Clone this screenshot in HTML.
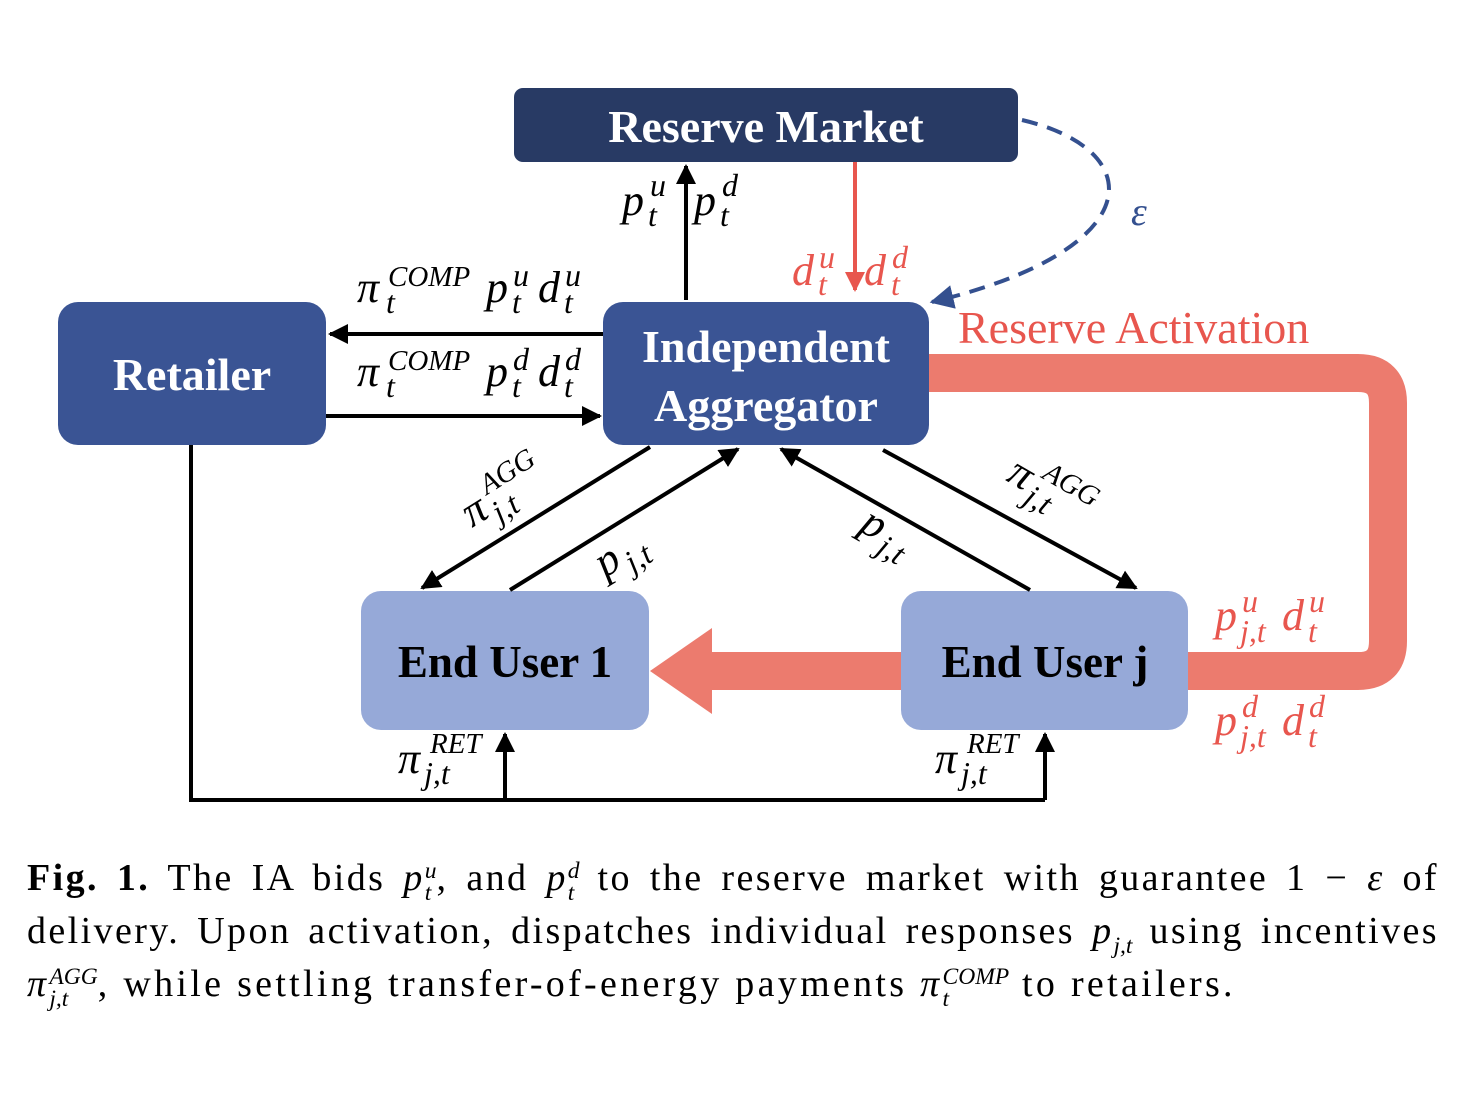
<!DOCTYPE html>
<html><head><meta charset="utf-8"><style>
body{margin:0;background:#fff;width:1478px;height:1100px;overflow:hidden;position:relative}
svg text{font-family:"Liberation Serif",serif}
.cap{position:absolute;left:27px;top:852px;width:1412px;font-family:"Liberation Serif",serif;font-size:38px;line-height:53px;letter-spacing:2.4px;text-align:justify;color:#000}
.cap .l{display:block;text-align:justify;text-align-last:justify;height:53px;white-space:nowrap}
.cap .l3{display:block;height:53px;white-space:nowrap;letter-spacing:3.3px}
.ss{display:inline-block;vertical-align:-0.42em;line-height:0.95;font-size:0.62em;font-style:italic;letter-spacing:0}
.ss span{display:block}
</style></head><body>
<svg width="1478" height="1100" viewBox="0 0 1478 1100" xmlns="http://www.w3.org/2000/svg" style="position:absolute;left:0;top:0">
<defs>
<marker id="ah" viewBox="0 0 10 10" refX="9" refY="5" markerWidth="5" markerHeight="5" orient="auto-start-reverse"><path d="M0,0 L10,5 L0,10 z" fill="#000"/></marker>
<marker id="ar" viewBox="0 0 10 10" refX="9" refY="5" markerWidth="5" markerHeight="5" orient="auto"><path d="M0,0 L10,5 L0,10 z" fill="#e8564e"/></marker>
<marker id="ab" viewBox="0 0 10 10" refX="9" refY="5" markerWidth="6" markerHeight="6" orient="auto"><path d="M0,0 L10,5 L0,10 z" fill="#34508f"/></marker>
</defs>
<path d="M925,373 H1358 Q1388,373 1388,403 V641 Q1388,671 1358,671 H1185" fill="none" stroke="#ec7b6e" stroke-width="38"/>
<rect x="700" y="652" width="205" height="38" fill="#ec7b6e"/>
<polygon points="650,671 712,628 712,714" fill="#ec7b6e"/>
<rect x="514" y="88" width="504" height="74" rx="9" fill="#283a64"/>
<text x="766" y="142" font-size="46" font-weight="bold" fill="#fff" text-anchor="middle">Reserve Market</text>
<rect x="58" y="302" width="268" height="143" rx="20" fill="#3a5494"/>
<text x="192" y="390" font-size="46" font-weight="bold" fill="#fff" text-anchor="middle">Retailer</text>
<rect x="603" y="302" width="326" height="143" rx="20" fill="#3a5494"/>
<text x="766" y="362" font-size="46" font-weight="bold" fill="#fff" text-anchor="middle">Independent</text>
<text x="766" y="421" font-size="46" font-weight="bold" fill="#fff" text-anchor="middle">Aggregator</text>
<rect x="361" y="591" width="288" height="139" rx="20" fill="#96a9d8"/>
<text x="505" y="677" font-size="45" font-weight="bold" fill="#000" text-anchor="middle">End User 1</text>
<rect x="901" y="591" width="287" height="139" rx="20" fill="#96a9d8"/>
<text x="1045" y="677" font-size="45" font-weight="bold" fill="#000" text-anchor="middle">End User j</text>
<g stroke="#000" stroke-width="4" fill="none">
<line x1="686" y1="300" x2="686" y2="166" marker-end="url(#ah)"/>
<line x1="603" y1="334" x2="330" y2="334" marker-end="url(#ah)"/>
<line x1="326" y1="416" x2="600" y2="416" marker-end="url(#ah)"/>
<polyline points="191,445 191,800 1045,800"/>
<line x1="505" y1="800" x2="505" y2="734" marker-end="url(#ah)"/>
<line x1="1045" y1="800" x2="1045" y2="734" marker-end="url(#ah)"/>
<line x1="650" y1="447" x2="422" y2="588" marker-end="url(#ah)"/>
<line x1="510" y1="590" x2="738" y2="449" marker-end="url(#ah)"/>
<line x1="1030" y1="590" x2="781" y2="449" marker-end="url(#ah)"/>
<line x1="883" y1="450" x2="1136" y2="588" marker-end="url(#ah)"/>
</g>
<line x1="855" y1="162" x2="855" y2="290" stroke="#e8564e" stroke-width="4" marker-end="url(#ar)"/>
<path d="M1022,120 C1150,150 1150,250 932,302" fill="none" stroke="#34508f" stroke-width="4" stroke-dasharray="16,10" marker-end="url(#ab)"/>
<g font-style="italic" font-size="44">
<text x="1131" y="225" fill="#34508f" font-size="40">ε</text>
<text x="622" y="215">p</text><text x="648" y="226" font-size="32">t</text><text x="650" y="196" font-size="32">u</text>
<text x="694" y="215">p</text><text x="720" y="226" font-size="32">t</text><text x="722" y="196" font-size="32">d</text>
<g fill="#e8564e">
<text x="792" y="285">d</text><text x="818" y="295" font-size="32">t</text><text x="819" y="268" font-size="32">u</text>
<text x="864" y="285">d</text><text x="891" y="295" font-size="32">t</text><text x="892" y="268" font-size="32">d</text>
</g>
<text x="357" y="302">π</text><text x="386" y="313" font-size="32">t</text><text x="388" y="286" font-size="29">COMP</text>
<text x="486" y="302">p</text><text x="512" y="313" font-size="32">t</text><text x="513" y="286" font-size="32">u</text>
<text x="538" y="302">d</text><text x="564" y="313" font-size="32">t</text><text x="565" y="286" font-size="32">u</text>
<text x="357" y="386">π</text><text x="386" y="397" font-size="32">t</text><text x="388" y="370" font-size="29">COMP</text>
<text x="486" y="386">p</text><text x="512" y="397" font-size="32">t</text><text x="513" y="370" font-size="32">d</text>
<text x="538" y="386">d</text><text x="564" y="397" font-size="32">t</text><text x="565" y="370" font-size="32">d</text>
<g fill="#e8564e">
<text x="1215" y="630">p</text><text x="1240" y="642" font-size="32">j,t</text><text x="1242" y="612" font-size="32">u</text>
<text x="1282" y="630">d</text><text x="1308" y="642" font-size="32">t</text><text x="1309" y="612" font-size="32">u</text>
<text x="1215" y="735">p</text><text x="1240" y="747" font-size="32">j,t</text><text x="1242" y="717" font-size="32">d</text>
<text x="1282" y="735">d</text><text x="1308" y="747" font-size="32">t</text><text x="1309" y="717" font-size="32">d</text>
</g>
<text x="398" y="773">π</text><text x="424" y="784" font-size="32">j,t</text><text x="430" y="753" font-size="29">RET</text>
<text x="935" y="773">π</text><text x="961" y="784" font-size="32">j,t</text><text x="967" y="753" font-size="29">RET</text>
<g transform="translate(472,528) rotate(-32)"><text x="0" y="0">π</text><text x="26" y="11" font-size="32">j,t</text><text x="30" y="-20" font-size="29">AGG</text></g>
<g transform="translate(605,578) rotate(-32)"><text x="0" y="0">p</text><text x="26" y="11" font-size="32">j,t</text></g>
<g transform="translate(858,530) rotate(30)"><text x="0" y="0">p</text><text x="26" y="11" font-size="32">j,t</text></g>
<g transform="translate(1005,480) rotate(30)"><text x="0" y="0">π</text><text x="26" y="11" font-size="32">j,t</text><text x="30" y="-20" font-size="29">AGG</text></g>
</g>
<text x="958" y="343" font-size="46" fill="#e8564e">Reserve Activation</text>
</svg>
<div class="cap">
<span class="l"><b>Fig. 1.</b> The IA bids <i>p</i><span class="ss"><span>u</span><span>t</span></span>, and <i>p</i><span class="ss"><span>d</span><span>t</span></span> to the reserve market with guarantee 1 − <i>ε</i> of</span>
<span class="l">delivery. Upon activation, dispatches individual responses <i>p</i><span class="ss"><span>&nbsp;</span><span>j,t</span></span> using incentives</span>
<span class="l3"><i>π</i><span class="ss"><span>AGG</span><span>j,t</span></span>, while settling transfer-of-energy payments <i>π</i><span class="ss"><span>COMP</span><span>t</span></span> to retailers.</span>
</div>
</body></html>
